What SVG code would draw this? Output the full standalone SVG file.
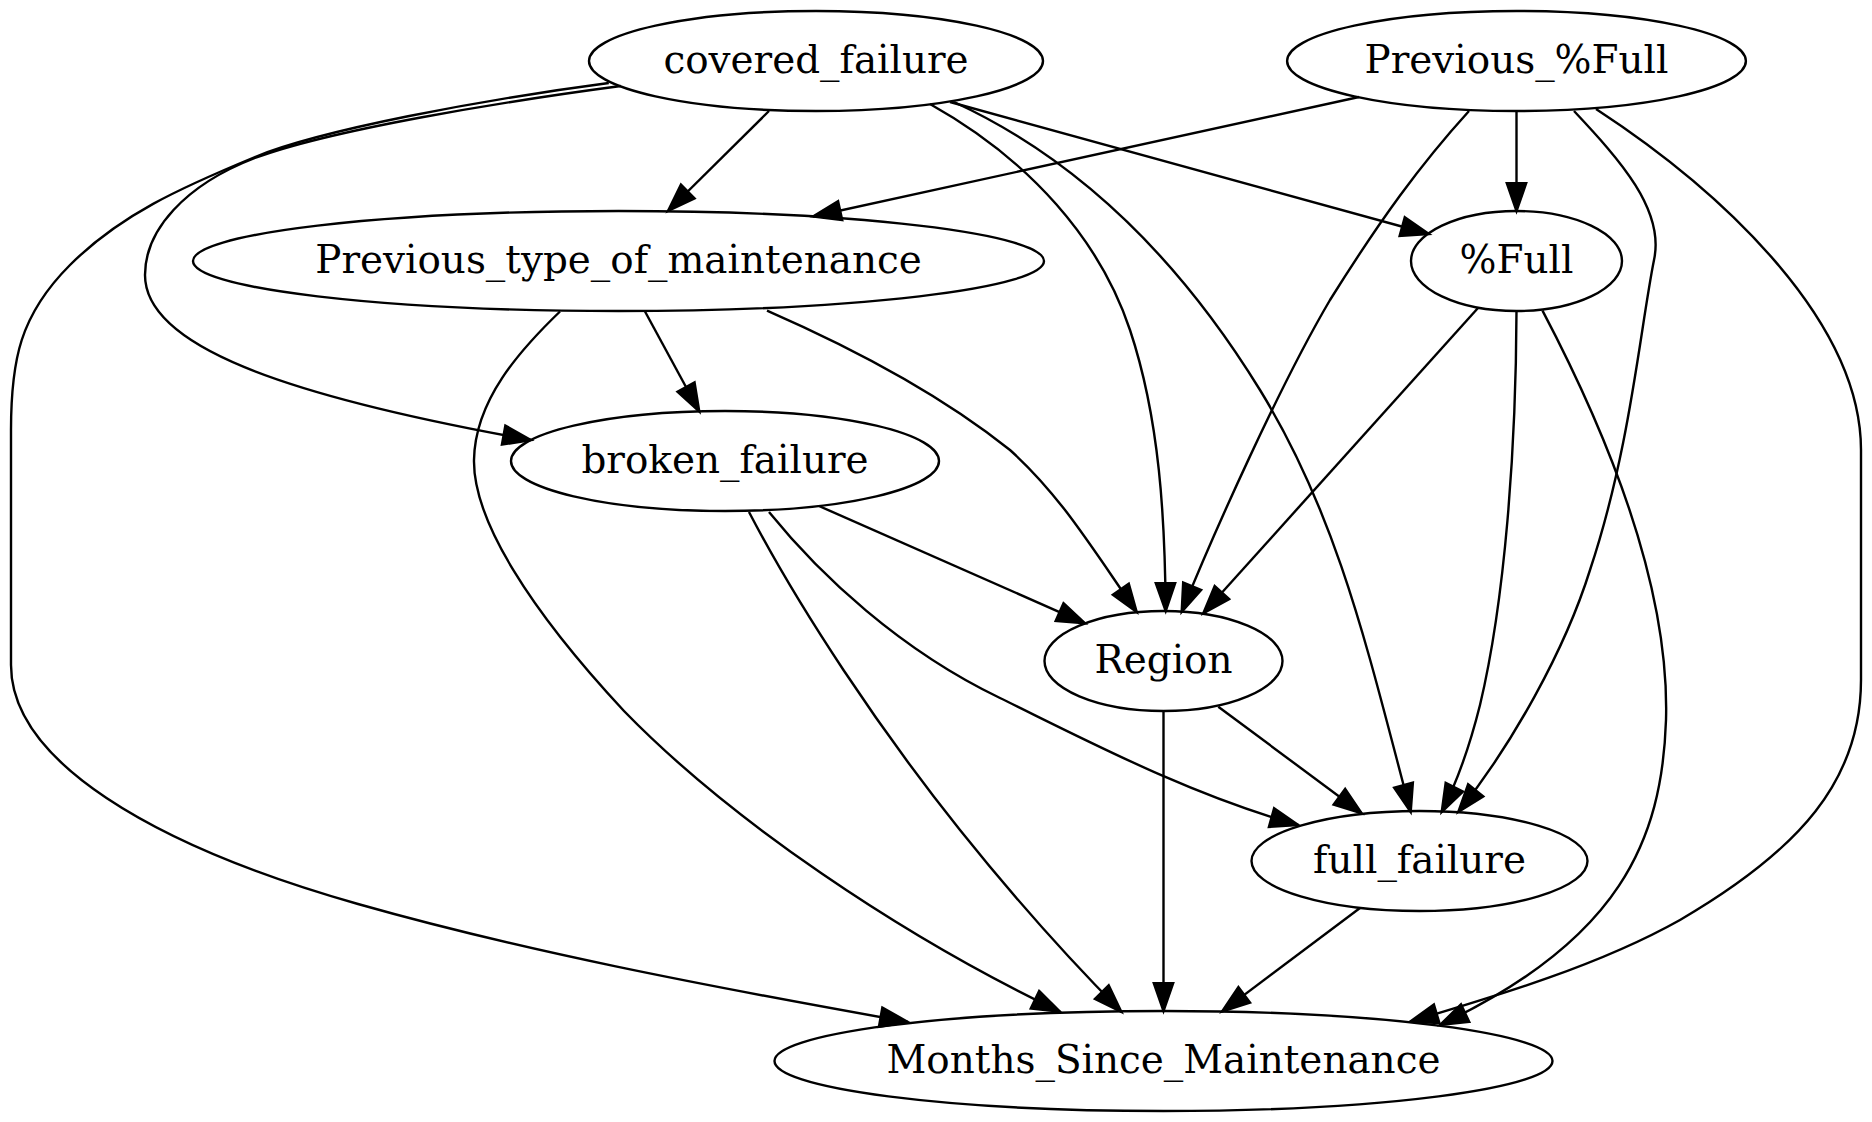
<svg xmlns="http://www.w3.org/2000/svg" width="1872" height="1122" viewBox="0 0 1872 1122">
<style>
.node ellipse{fill:none;stroke:#000;stroke-width:2.4}
.node text{font-family:"DejaVu Serif","Liberation Serif",serif;font-size:38.9px;text-anchor:middle;fill:#000}
.edge path{fill:none;stroke:#000;stroke-width:2.4;marker-end:url(#ah)}
</style>
<defs>
<marker id="ah" markerWidth="36" markerHeight="28" viewBox="-4 -14 36 28" refX="27.8" refY="0" orient="auto" markerUnits="userSpaceOnUse" style="overflow:visible">
<path d="M0,-9.7 L27.8,0 L0,9.7 Z" fill="#000" stroke="#000" stroke-width="2.4"/>
</marker>
</defs>
<rect width="1872" height="1122" fill="#fff"/>
<g id="edges" class="edge">
<path id="covered_failure-Previous_type_of_maintenance" d="M769,111 L668,211"/>
<path id="covered_failure-broken_failure" d="M620.8,86 C500,102 330,130 255,158 C185,185 145,230 145,275 C145,345 280,395 531,440"/>
<path id="covered_failure-Months_Since_Maintenance" d="M608.8,83 C480,100 320,130 255,157 C180,188 120,215 70,265 C20,315 11,360 11,430 L11,665 C11,760 150,845 358,904 C520,950 700,985 908,1022"/>
<path id="covered_failure-Region" d="M930,104 C1030,160 1100,240 1130,330 C1160,420 1165,520 1165.7,611"/>
<path id="covered_failure-full_failure" d="M954,102 C1080,160 1180,260 1260,390 C1340,520 1370,660 1410.7,812"/>
<path id="covered_failure-pct_Full" d="M950,102 L1429,234"/>
<path id="Previous_pct_Full-Previous_type_of_maintenance" d="M1359,97 L813,216.5"/>
<path id="Previous_pct_Full-pct_Full" d="M1516.5,111 L1516.5,211"/>
<path id="Previous_pct_Full-Region" d="M1469,111 C1420,165 1380,220 1330,300 C1280,385 1215,530 1181.7,612"/>
<path id="Previous_pct_Full-full_failure" d="M1574,111 C1620,160 1665,210 1654,260 C1640,330 1630,450 1590,570 C1565,650 1512,745 1458.3,812"/>
<path id="Previous_pct_Full-Months_Since_Maintenance" d="M1596,109 C1720,190 1861,320 1861,450 L1861,680 C1861,780 1800,850 1680,920 C1600,965 1500,995 1410,1021.7"/>
<path id="Previous_type_of_maintenance-broken_failure" d="M645,311.5 L699.3,411.5"/>
<path id="Previous_type_of_maintenance-Region" d="M767,310.6 C880,360 960,410 1010,450 C1060,495 1090,545 1136.7,612"/>
<path id="Previous_type_of_maintenance-Months_Since_Maintenance" d="M560,311.5 C520,350 475,400 474,460 C473,520 530,610 624,711 C730,820 900,935 1060,1011.7"/>
<path id="pct_Full-Region" d="M1478,308 L1203.3,613.3"/>
<path id="pct_Full-full_failure" d="M1516.5,311 C1516,450 1505,600 1480,705 C1470,745 1458,780 1441.7,812"/>
<path id="pct_Full-Months_Since_Maintenance" d="M1542.5,310.6 C1600,420 1670,580 1666,720 C1662,840 1620,940 1440,1025"/>
<path id="broken_failure-Region" d="M819,506 L1085,623.3"/>
<path id="broken_failure-full_failure" d="M769,512 C820,575 900,650 1000,698 C1090,742 1190,795 1298.3,825"/>
<path id="broken_failure-Months_Since_Maintenance" d="M749,512 C800,610 880,730 960,830 C1020,905 1070,960 1121.4,1011.8"/>
<path id="Region-full_failure" d="M1218.3,706.7 L1361.7,813.3"/>
<path id="Region-Months_Since_Maintenance" d="M1163.5,711 L1163.5,1011"/>
<path id="full_failure-Months_Since_Maintenance" d="M1360,908 L1222,1011.6"/>
</g>
<g id="covered_failure" class="node"><ellipse cx="816" cy="61" rx="227" ry="50"/><text x="816" y="72.5">covered_failure</text></g>
<g id="Previous_pct_Full" class="node"><ellipse cx="1516.5" cy="61" rx="229.4" ry="50"/><text x="1516.5" y="72.5">Previous_%Full</text></g>
<g id="Previous_type_of_maintenance" class="node"><ellipse cx="618.5" cy="261" rx="425.5" ry="50"/><text x="618.5" y="272.5">Previous_type_of_maintenance</text></g>
<g id="pct_Full" class="node"><ellipse cx="1516.5" cy="261" rx="105.5" ry="50"/><text x="1516.5" y="272.5">%Full</text></g>
<g id="broken_failure" class="node"><ellipse cx="725" cy="461" rx="214" ry="50"/><text x="725" y="472.5">broken_failure</text></g>
<g id="Region" class="node"><ellipse cx="1163.5" cy="661" rx="119" ry="50"/><text x="1163.5" y="672.5">Region</text></g>
<g id="full_failure" class="node"><ellipse cx="1419.5" cy="861" rx="168" ry="50"/><text x="1419.5" y="872.5">full_failure</text></g>
<g id="Months_Since_Maintenance" class="node"><ellipse cx="1163.5" cy="1061" rx="389" ry="50"/><text x="1163.5" y="1072.5">Months_Since_Maintenance</text></g>
</svg>
